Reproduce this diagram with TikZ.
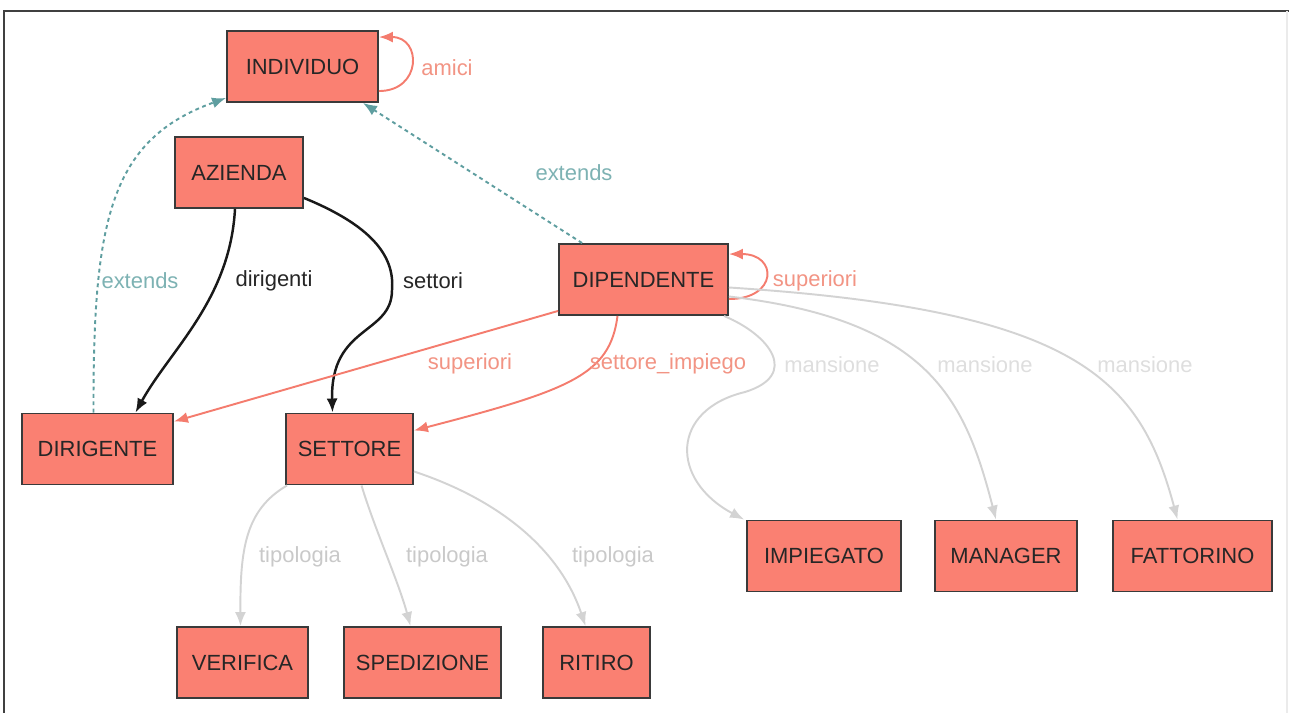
\documentclass[tikz,border=0pt]{standalone}
\usepackage{fontspec}
\setmainfont{Liberation Sans}
\usetikzlibrary{arrows.meta,calc}
\definecolor{salmonfill}{HTML}{FA8072}
\definecolor{boxline}{HTML}{3A3A3A}
\definecolor{relcol}{HTML}{F47C6E}
\definecolor{rellbl}{HTML}{F29484}
\definecolor{cadet}{HTML}{5F9EA0}
\definecolor{cadetlbl}{HTML}{7DB2B3}
\definecolor{edgegray}{HTML}{D3D3D3}
\definecolor{tipolbl}{HTML}{C9C9C9}
\definecolor{manslbl}{HTML}{DEDEDE}
\tikzset{
  entity/.style={draw=boxline, line width=1.1pt, fill=salmonfill, minimum height=1.42cm, inner sep=0pt,
    font=\fontsize{12.5}{15}\selectfont, text=black!85},
  lbl/.style={font=\fontsize{12.5}{15}\selectfont, inner sep=1pt},
  arr/.style={-{Latex[length=2.8mm,width=2.2mm]}, line width=1.1pt},
  ext/.style={arr, cadet, dash pattern=on 2.2pt off 2pt},
  rel/.style={arr, relcol},
  own/.style={arr, black!90, line width=1.4pt},
  kind/.style={arr, edgegray},
}
\begin{document}
\begin{tikzpicture}[x=0.02cm, y=-0.02cm]
\useasboundingbox (0,0) rectangle (1289,713);
% frame
\draw[line width=1.2pt, black!75] (4,713) -- (4,11) -- (1289,11);
\draw[line width=0.6pt, black!8] (1287,11) -- (1287,713);

% entities
\node[entity, minimum width=3.02cm] (indiv) at (302.5,66.5) {INDIVIDUO};
\node[entity, minimum width=2.56cm] (azienda) at (239,172.5) {AZIENDA};
\node[entity, minimum width=3.38cm] (dipend) at (643.5,279.5) {DIPENDENTE};
\node[entity, minimum width=3.02cm] (dirig) at (97.5,449) {DIRIGENTE};
\node[entity, minimum width=2.54cm] (settore) at (349.5,449) {SETTORE};
\node[entity, minimum width=2.62cm] (verifica) at (242.5,662.5) {VERIFICA};
\node[entity, minimum width=3.14cm] (spediz) at (422.5,662.5) {SPEDIZIONE};
\node[entity, minimum width=2.14cm] (ritiro) at (596.5,662.5) {RITIRO};
\node[entity, minimum width=3.08cm] (impieg) at (824,556) {IMPIEGATO};
\node[entity, minimum width=2.84cm] (manager) at (1006,556) {MANAGER};
\node[entity, minimum width=3.18cm] (fattor) at (1192.5,556) {FATTORINO};

% extends
\draw[ext] ($(dirig.north)+(-4,0)$) .. controls (93,220) and (110,140) .. ($(indiv.south west)+(0,-5)$);
\draw[ext] ($(dipend.north west)+(24,0)$) -- ($(indiv.south east)+(-16,0)$);

% self loops
\draw[rel] ($(indiv.north east)+(0,61)$) .. controls +(43,0) and +(43,0) .. ($(indiv.north east)+(0,7)$);
\draw[rel] ($(dipend.north east)+(0,56)$) .. controls +(49,0) and +(49,0) .. ($(dipend.north east)+(0,11)$);

% azienda
\draw[own] ($(azienda.south)+(-4,0)$) .. controls (230,300) and (170,350) .. ($(dirig.north)+(38,0)$);
\draw[own] ($(azienda.south east)+(0,-11)$) .. controls (370,225) and (395,255) .. (392,290)
  .. controls (392,335) and (330,325) .. ($(settore.north)+(-17,0)$);

% dipendente
\draw[rel] ($(dipend.south west)+(0,-5)$) -- ($(dirig.north east)+(0,9)$);
\draw[rel] ($(dipend.south)+(-26,0)$) .. controls (610,375) and (570,390) .. ($(settore.north east)+(0,18)$);
\draw[kind] ($(dipend.south east)+(-5,0)$) .. controls (770,335) and (800,375) .. (745,392)
  .. controls (670,410) and (670,480) .. ($(impieg.north west)+(-2,0)$);
\draw[kind] ($(dipend.east)+(0,17)$) .. controls (930,320) and (965,400) .. ($(manager.north)+(-10,0)$);
\draw[kind] ($(dipend.east)+(0,8)$) .. controls (1080,310) and (1140,380) .. ($(fattor.north)+(-15,0)$);

% settore
\draw[kind] ($(settore.south west)+(2,0)$) .. controls (245,510) and (240,550) .. ($(verifica.north)+(-2,0)$);
\draw[kind] ($(settore.south)+(12,0)$) .. controls (375,530) and (398,580) .. ($(spediz.north)+(-12,0)$);
\draw[kind] ($(settore.south east)+(0,-14)$) .. controls (500,500) and (560,550) .. ($(ritiro.north)+(-11,0)$);

% labels
\node[lbl, text=rellbl] (l-amici) at (447,68) {amici};
\node[lbl, text=cadetlbl] (l-ext1) at (574,173) {extends};
\node[lbl, text=cadetlbl] (l-ext2) at (140,281) {extends};
\node[lbl, text=black!85] (l-dirig) at (274,281) {dirigenti};
\node[lbl, text=black!85] (l-sett) at (433,281) {settori};
\node[lbl, text=rellbl] (l-sup1) at (815,281) {superiori};
\node[lbl, text=rellbl] (l-sup2) at (470,364) {superiori};
\node[lbl, text=rellbl] (l-simp) at (668,364) {settore\_impiego};
\node[lbl, text=manslbl] (l-mans1) at (832,365) {mansione};
\node[lbl, text=manslbl] (l-mans2) at (985,365) {mansione};
\node[lbl, text=manslbl] (l-mans3) at (1145,365) {mansione};
\node[lbl, text=tipolbl] (l-tip1) at (300,557) {tipologia};
\node[lbl, text=tipolbl] (l-tip2) at (447,557) {tipologia};
\node[lbl, text=tipolbl] (l-tip3) at (613,557) {tipologia};
\end{tikzpicture}
\end{document}
